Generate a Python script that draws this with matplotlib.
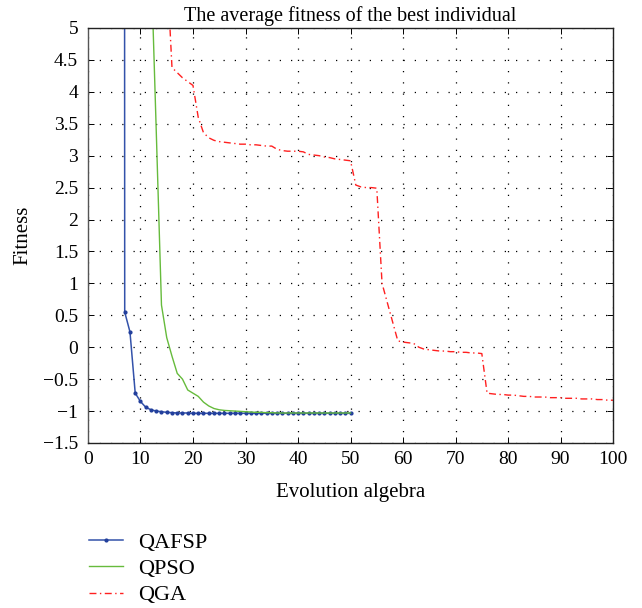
import numpy as np
import matplotlib
matplotlib.use('Agg')
import matplotlib.pyplot as plt

plt.rcParams['font.family'] = ['Liberation Serif', 'DejaVu Serif']
plt.rcParams['axes.unicode_minus'] = True

# ==============================
# Data
# ==============================
qafsp_x = list(range(6, 51))
qafsp_y = [200, 0.55, 0.24, -0.72, -0.85, -0.94, -0.98, -1.0, -1.01, -1.02,
           -1.025, -1.03, -1.03, -1.03, -1.035, -1.035, -1.035, -1.035, -1.035, -1.035,
           -1.035, -1.035, -1.035, -1.035, -1.035, -1.035, -1.035, -1.035, -1.035, -1.035,
           -1.035, -1.035, -1.035, -1.035, -1.035, -1.035, -1.035, -1.035, -1.035, -1.035,
           -1.035, -1.035, -1.035, -1.035, -1.035]

qpso_x = list(range(12, 51))
qpso_y = [6.1, 3.4, 0.66, 0.15, -0.14, -0.41, -0.50, -0.67, -0.72, -0.77,
          -0.86, -0.92, -0.96, -0.98, -0.99, -0.995, -1.0, -1.005, -1.01, -1.015,
          -1.02, -1.02, -1.025, -1.025, -1.03, -1.03, -1.03, -1.03, -1.03, -1.03,
          -1.03, -1.03, -1.03, -1.03, -1.03, -1.03, -1.03, -1.03, -1.03]

qga_x = list(range(15, 101))
qga_y = [6.0, 4.38, 4.3, 4.22, 4.16, 4.1, 3.6, 3.36, 3.28, 3.24,
         3.22, 3.21, 3.2, 3.19, 3.18, 3.18, 3.17, 3.17, 3.16, 3.15,
         3.15, 3.1, 3.08, 3.07, 3.07, 3.07, 3.06, 3.02, 3.01, 3.0,
         2.98, 2.97, 2.95, 2.94, 2.93, 2.92, 2.54, 2.51, 2.5, 2.5,
         2.49, 1.0, 0.7, 0.4, 0.1, 0.08, 0.07, 0.06, 0.0, -0.03,
         -0.04, -0.05, -0.06, -0.06, -0.07, -0.07, -0.08, -0.08, -0.09, -0.09,
         -0.1, -0.72, -0.73, -0.74, -0.74, -0.75, -0.75, -0.76, -0.77, -0.77,
         -0.78, -0.78, -0.78, -0.79, -0.79, -0.79, -0.8, -0.8, -0.8, -0.81,
         -0.81, -0.81, -0.82, -0.82, -0.83, -0.83]

x_ticks = list(range(0, 101, 10))
y_ticks = [-1.5, -1, -0.5, 0, 0.5, 1, 1.5, 2, 2.5, 3, 3.5, 4, 4.5, 5]
y_tick_labels = ['\u22121.5', '\u22121', '\u22120.5', '0', '0.5', '1', '1.5',
                 '2', '2.5', '3', '3.5', '4', '4.5', '5']

# ==============================
# Plot
# ==============================
fig = plt.figure(figsize=(6.42, 6.08), dpi=100)
ax = fig.add_axes([0.137, 0.2714, 0.818, 0.6826])

ax.plot(qafsp_x, qafsp_y, color='#3352aa', linewidth=1.1, marker='.', markersize=4,
        markerfacecolor='#223f9c', markeredgecolor='#223f9c', label='QAFSP')
ax.plot(qpso_x, qpso_y, color='#66bb3c', linewidth=1.0, label='QPSO')
ax.plot(qga_x, qga_y, color='#ff2020', linewidth=1.0, linestyle=(0, (5, 2.5, 1, 2.5)), label='QGA')

ax.set_xlim(0, 100)
ax.set_ylim(-1.5, 5)
ax.set_xticks(x_ticks)
ax.set_yticks(y_ticks)
ax.set_yticklabels(y_tick_labels)
ax.tick_params(direction='in', length=4, labelsize=14, top=True, right=True, width=0.7)
ax.tick_params(axis='y', pad=7)
ax.tick_params(axis='x', pad=6)
ax.grid(True, color='black', linestyle=(0, (1, 8)), linewidth=0.9)

for sp in ax.spines.values():
    sp.set_color('#222222')
    sp.set_linewidth(1.0)
ax.spines['left'].set_color('#555555')

ax.set_title('The average fitness of the best individual', fontsize=14.5, pad=5)
ax.set_xlabel('Evolution algebra', fontsize=15)
ax.set_ylabel('Fitness', fontsize=15)
ax.xaxis.set_label_coords(0.5, -0.097)
ax.yaxis.set_label_coords(-0.106, 0.5)

fig.legend(loc='upper left', bbox_to_anchor=(0.1386, 0.124), frameon=False, fontsize=16,
           handlelength=1.53, handletextpad=0.68, labelspacing=0.25, borderaxespad=0,
           borderpad=0)

fig.savefig('out.png', dpi=100)
